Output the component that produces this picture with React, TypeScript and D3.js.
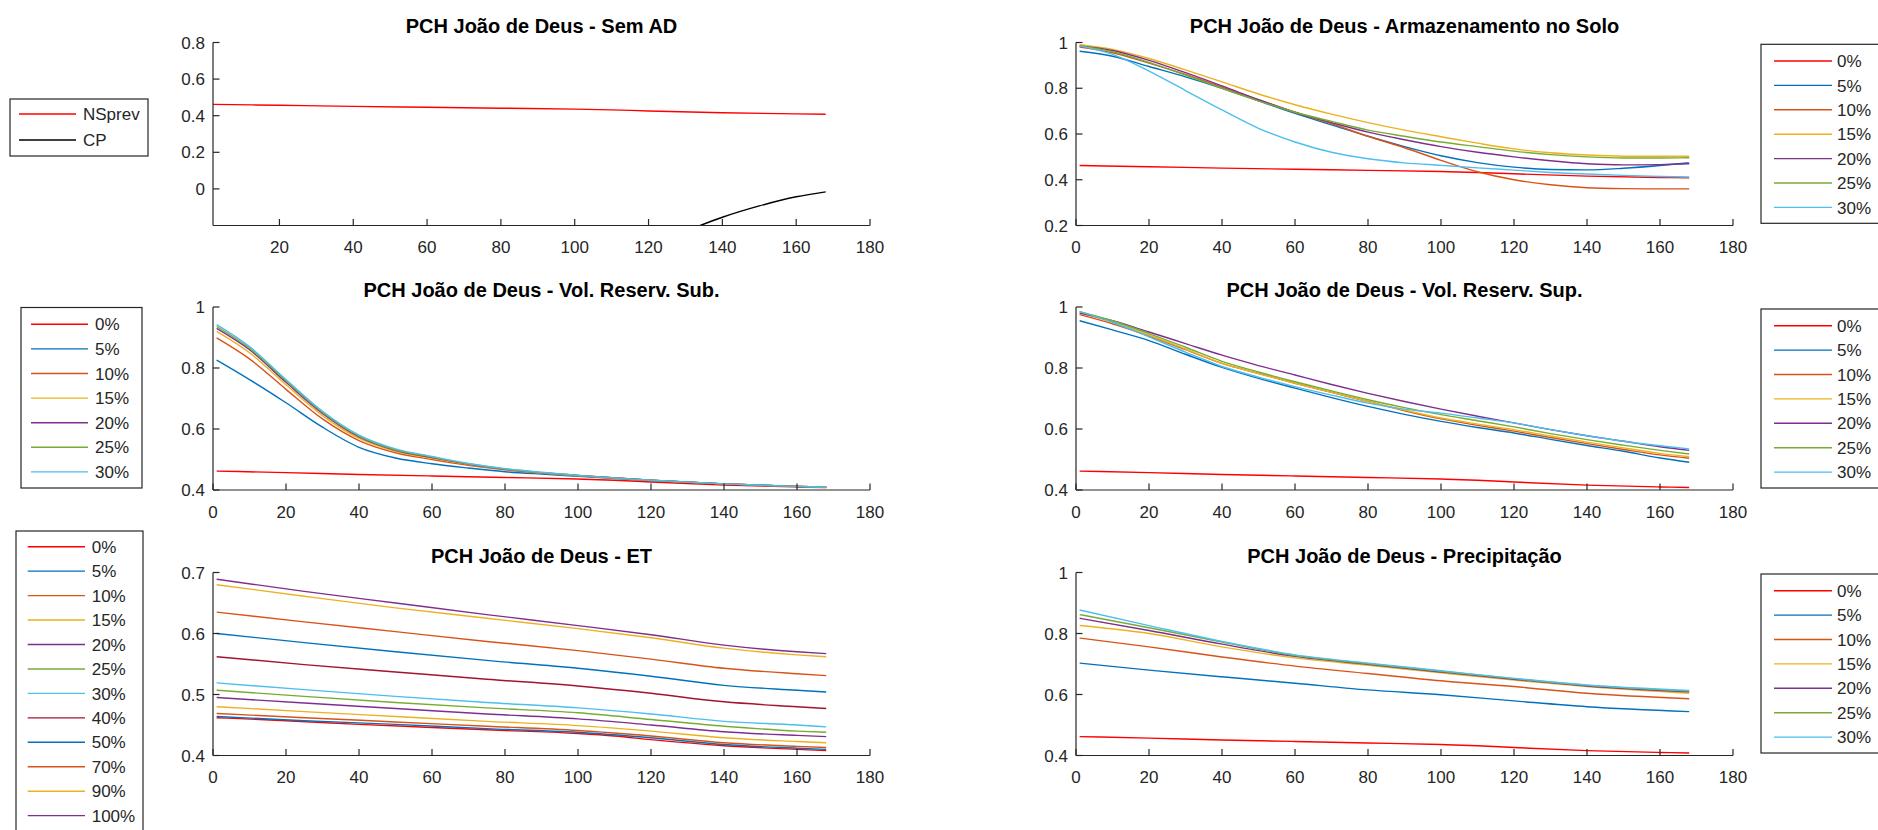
import React from "react";
import * as d3 from "d3";

// ---------- DATA ----------
const xBase = [1, 20, 40, 60, 80, 100, 110, 120, 140, 160, 168];
const nsPrev = [0.462, 0.457, 0.451, 0.446, 0.441, 0.436, 0.432, 0.426, 0.416, 0.41, 0.408];

const xCP = [134, 140, 150, 160, 168];
const cp = [-0.2, -0.155, -0.093, -0.043, -0.016];

const pctLabels = ["0%", "5%", "10%", "15%", "20%", "25%", "30%"];
const etLabels = ["0%", "5%", "10%", "15%", "20%", "25%", "30%", "40%", "50%", "70%", "90%", "100%"];
const palette = ["#FF0000", "#0072BD", "#D95319", "#EDB120", "#7E2F8E", "#77AC30", "#4DBEEE", "#A2142F", "#0072BD", "#D95319", "#EDB120", "#7E2F8E"];

// Armazenamento no Solo
const xArm = [1, 10, 20, 30, 40, 50, 60, 70, 80, 90, 100, 110, 120, 130, 140, 150, 160, 168];
const arm5 = [0.962, 0.94, 0.895, 0.85, 0.8, 0.745, 0.69, 0.64, 0.59, 0.545, 0.505, 0.475, 0.455, 0.445, 0.443, 0.45, 0.462, 0.474];
const arm10 = [0.98, 0.955, 0.91, 0.86, 0.805, 0.75, 0.695, 0.645, 0.59, 0.54, 0.485, 0.435, 0.4, 0.378, 0.365, 0.361, 0.36, 0.36];
const arm15 = [0.99, 0.97, 0.93, 0.88, 0.828, 0.775, 0.728, 0.687, 0.65, 0.617, 0.588, 0.56, 0.535, 0.518, 0.508, 0.503, 0.503, 0.503];
const arm20 = [0.985, 0.965, 0.922, 0.868, 0.81, 0.75, 0.695, 0.65, 0.608, 0.575, 0.545, 0.52, 0.5, 0.483, 0.47, 0.465, 0.466, 0.47];
const arm25 = [0.985, 0.96, 0.913, 0.858, 0.8, 0.745, 0.695, 0.655, 0.617, 0.59, 0.565, 0.545, 0.525, 0.51, 0.5, 0.495, 0.495, 0.496];
const arm30 = [0.985, 0.948, 0.875, 0.79, 0.705, 0.625, 0.565, 0.52, 0.492, 0.474, 0.463, 0.452, 0.442, 0.432, 0.425, 0.419, 0.414, 0.412];

// Vol. Reserv. Sub.
const xSub = [1, 10, 20, 30, 40, 50, 60, 70, 80, 90, 100, 120, 140, 160, 168];
const sub5 = [0.826, 0.762, 0.686, 0.606, 0.54, 0.505, 0.486, 0.472, 0.46, 0.452, 0.445, 0.431, 0.42, 0.412, 0.409];
const sub10 = [0.899, 0.83, 0.73, 0.633, 0.562, 0.522, 0.5, 0.481, 0.466, 0.455, 0.447, 0.432, 0.42, 0.412, 0.409];
const sub15 = [0.92, 0.85, 0.745, 0.644, 0.569, 0.527, 0.504, 0.484, 0.467, 0.456, 0.447, 0.432, 0.42, 0.412, 0.409];
const sub20 = [0.93, 0.86, 0.753, 0.651, 0.574, 0.53, 0.506, 0.485, 0.468, 0.457, 0.448, 0.432, 0.42, 0.412, 0.409];
const sub25 = [0.936, 0.865, 0.758, 0.655, 0.577, 0.532, 0.508, 0.486, 0.469, 0.457, 0.448, 0.432, 0.42, 0.412, 0.409];
const sub30 = [0.942, 0.87, 0.762, 0.658, 0.58, 0.535, 0.51, 0.487, 0.47, 0.458, 0.448, 0.432, 0.42, 0.412, 0.409];

// Vol. Reserv. Sup.
const xSup = xArm;
const sup5 = [0.955, 0.925, 0.89, 0.845, 0.802, 0.766, 0.734, 0.703, 0.674, 0.648, 0.625, 0.605, 0.587, 0.566, 0.546, 0.527, 0.505, 0.491];
const sup10 = [0.975, 0.945, 0.905, 0.86, 0.815, 0.782, 0.75, 0.72, 0.69, 0.66, 0.633, 0.612, 0.593, 0.572, 0.552, 0.533, 0.515, 0.504];
const sup15 = [0.98, 0.95, 0.908, 0.862, 0.815, 0.782, 0.75, 0.72, 0.69, 0.662, 0.636, 0.616, 0.598, 0.577, 0.557, 0.538, 0.52, 0.509];
const sup20 = [0.98, 0.955, 0.918, 0.88, 0.842, 0.808, 0.777, 0.746, 0.717, 0.69, 0.665, 0.642, 0.62, 0.598, 0.578, 0.56, 0.542, 0.53];
const sup25 = [0.985, 0.955, 0.913, 0.868, 0.822, 0.787, 0.755, 0.725, 0.696, 0.67, 0.647, 0.627, 0.607, 0.585, 0.565, 0.547, 0.53, 0.518];
const sup30 = [0.985, 0.95, 0.902, 0.852, 0.805, 0.77, 0.739, 0.711, 0.685, 0.665, 0.652, 0.636, 0.62, 0.598, 0.578, 0.56, 0.545, 0.535];

// ET
const xET = [1, 25, 50, 75, 100, 120, 140, 160, 168];
const et5 = [0.464, 0.457, 0.451, 0.444, 0.438, 0.429, 0.418, 0.412, 0.41];
const et10 = [0.469, 0.462, 0.455, 0.448, 0.441, 0.432, 0.421, 0.415, 0.413];
const et15 = [0.48, 0.472, 0.464, 0.456, 0.449, 0.44, 0.429, 0.423, 0.421];
const et20 = [0.495, 0.486, 0.477, 0.468, 0.46, 0.45, 0.439, 0.433, 0.431];
const et25 = [0.507, 0.497, 0.487, 0.478, 0.47, 0.459, 0.448, 0.44, 0.438];
const et30 = [0.519, 0.508, 0.497, 0.487, 0.478, 0.468, 0.456, 0.45, 0.447];
const et40 = [0.562, 0.549, 0.537, 0.525, 0.514, 0.502, 0.488, 0.48, 0.477];
const et50 = [0.6, 0.585, 0.57, 0.556, 0.543, 0.53, 0.515, 0.507, 0.504];
const et70 = [0.635, 0.619, 0.603, 0.587, 0.572, 0.558, 0.543, 0.534, 0.531];
const et90 = [0.68, 0.661, 0.642, 0.625, 0.608, 0.593, 0.576, 0.565, 0.562];
const et100 = [0.689, 0.669, 0.65, 0.631, 0.613, 0.598, 0.581, 0.57, 0.567];

// Precipitação
const xPre = [1, 20, 40, 60, 80, 100, 120, 140, 168];
const pre5 = [0.703, 0.68, 0.658, 0.637, 0.615, 0.599, 0.579, 0.56, 0.544];
const pre10 = [0.785, 0.756, 0.723, 0.693, 0.669, 0.645, 0.626, 0.604, 0.586];
const pre15 = [0.826, 0.8, 0.756, 0.72, 0.696, 0.671, 0.647, 0.626, 0.604];
const pre20 = [0.85, 0.81, 0.765, 0.725, 0.699, 0.674, 0.65, 0.628, 0.609];
const pre25 = [0.862, 0.819, 0.772, 0.728, 0.701, 0.676, 0.652, 0.63, 0.611];
const pre30 = [0.877, 0.826, 0.774, 0.73, 0.703, 0.678, 0.653, 0.631, 0.613];

const xTicksFull = [0, 20, 40, 60, 80, 100, 120, 140, 160, 180];
const xTicksNoZero = [20, 40, 60, 80, 100, 120, 140, 160, 180];

// ---------- STYLE / LAYOUT ----------
const FONT = "'Liberation Sans', Arial, Helvetica, sans-serif";
const AX = "#262626";
const LW = 1.4;

type Series = { xs: number[]; ys: number[]; color: string };

function mk(xs: number[], ysList: number[][], colorStart = 1): Series[] {
  return ysList.map((ys, i) => ({ xs, ys, color: palette[colorStart + i] }));
}
const base: Series = { xs: xBase, ys: nsPrev, color: palette[0] };

const fmt = (v: number) => String(+v.toFixed(2));

function Panel(props: {
  id: string; left: number; top: number; width: number; height: number;
  xDomain: [number, number]; yDomain: [number, number];
  xTicks: number[]; yTicks: number[]; title: string; series: Series[];
}) {
  const { id, left, top, width, height, xDomain, yDomain, xTicks, yTicks, title, series } = props;
  const xs = d3.scaleLinear().domain(xDomain).range([left, left + width]);
  const ys = d3.scaleLinear().domain(yDomain).range([top + height, top]);
  const line = d3.line<[number, number]>().x((d) => xs(d[0])).y((d) => ys(d[1])).curve(d3.curveMonotoneX);
  const bottom = top + height;
  const tl = 6.5;
  return (
    <g>
      <defs>
        <clipPath id={id}>
          <rect x={left} y={top - 1} width={width} height={height + 1} />
        </clipPath>
      </defs>
      <text x={left + width / 2} y={top - 10} textAnchor="middle" fontFamily={FONT} fontWeight="bold" fontSize={20} fill="#000">{title}</text>
      <g clipPath={`url(#${id})`}>
        {series.map((s, i) => (
          <path key={i} d={line(s.xs.map((x, j) => [x, s.ys[j]] as [number, number])) || ""} fill="none" stroke={s.color} strokeWidth={LW} />
        ))}
      </g>
      <line x1={left} x2={left + width} y1={bottom} y2={bottom} stroke={AX} strokeWidth={1.2} />
      <line x1={left} x2={left} y1={top} y2={bottom} stroke={AX} strokeWidth={1.2} />
      {xTicks.map((t) => (
        <g key={"x" + t}>
          <line x1={xs(t)} x2={xs(t)} y1={bottom} y2={bottom - tl} stroke={AX} strokeWidth={1.2} />
          <text x={xs(t)} y={bottom + 27.5} textAnchor="middle" fontFamily={FONT} fontSize={17} fill={AX}>{t}</text>
        </g>
      ))}
      {yTicks.map((t) => (
        <g key={"y" + t}>
          <line x1={left} x2={left + tl} y1={ys(t)} y2={ys(t)} stroke={AX} strokeWidth={1.2} />
          <text x={left - 8} y={ys(t)} dy="0.36em" textAnchor="end" fontFamily={FONT} fontSize={17} fill={AX}>{fmt(t)}</text>
        </g>
      ))}
    </g>
  );
}

function Legend(props: {
  x: number; y: number; w: number; h: number; labels: string[]; colors: string[];
  lx1: number; lx2: number; tx: number; firstY: number; gap: number;
}) {
  const { x, y, w, h, labels, colors, lx1, lx2, tx, firstY, gap } = props;
  return (
    <g>
      <rect x={x} y={y} width={w} height={h} fill="#fff" stroke={AX} strokeWidth={1.2} />
      {labels.map((lab, i) => {
        const yy = firstY + i * gap;
        return (
          <g key={i}>
            <line x1={lx1} x2={lx2} y1={yy} y2={yy} stroke={colors[i]} strokeWidth={LW} />
            <text x={tx} y={yy} dy="0.36em" fontFamily={FONT} fontSize={17} fill={AX}>{lab}</text>
          </g>
        );
      })}
    </g>
  );
}

export default function App() {
  const LX = 213, LW_ = 657, RX = 1076, RW = 657, H = 183;
  const T1 = 42.5, T2 = 307, T3 = 572.5;
  const pctColors = palette.slice(0, 7);
  return (
    <svg width={1878} height={830} style={{ position: "absolute", left: 0, top: 0, background: "#fff" }}>
      <rect x={0} y={0} width={1878} height={830} fill="#fff" />
      <Panel id="c1" left={LX} top={T1} width={LW_} height={H} xDomain={[2, 180]} yDomain={[-0.2, 0.8]}
        xTicks={xTicksNoZero} yTicks={[0, 0.2, 0.4, 0.6, 0.8]} title="PCH João de Deus - Sem AD"
        series={[base, { xs: xCP, ys: cp, color: "#000" }]} />
      <Panel id="c2" left={RX} top={T1} width={RW} height={H} xDomain={[0, 180]} yDomain={[0.2, 1]}
        xTicks={xTicksFull} yTicks={[0.2, 0.4, 0.6, 0.8, 1]} title="PCH João de Deus - Armazenamento no Solo"
        series={[base, ...mk(xArm, [arm5, arm10, arm15, arm20, arm25, arm30])]} />
      <Panel id="c3" left={LX} top={T2} width={LW_} height={H} xDomain={[0, 180]} yDomain={[0.4, 1]}
        xTicks={xTicksFull} yTicks={[0.4, 0.6, 0.8, 1]} title="PCH João de Deus - Vol. Reserv. Sub."
        series={[base, ...mk(xSub, [sub5, sub10, sub15, sub20, sub25, sub30])]} />
      <Panel id="c4" left={RX} top={T2} width={RW} height={H} xDomain={[0, 180]} yDomain={[0.4, 1]}
        xTicks={xTicksFull} yTicks={[0.4, 0.6, 0.8, 1]} title="PCH João de Deus - Vol. Reserv. Sup."
        series={[base, ...mk(xSup, [sup5, sup10, sup15, sup20, sup25, sup30])]} />
      <Panel id="c5" left={LX} top={T3} width={LW_} height={H} xDomain={[0, 180]} yDomain={[0.4, 0.7]}
        xTicks={xTicksFull} yTicks={[0.4, 0.5, 0.6, 0.7]} title="PCH João de Deus - ET"
        series={[base, ...mk(xET, [et5, et10, et15, et20, et25, et30, et40, et50, et70, et90, et100])]} />
      <Panel id="c6" left={RX} top={T3} width={RW} height={H} xDomain={[0, 180]} yDomain={[0.4, 1]}
        xTicks={xTicksFull} yTicks={[0.4, 0.6, 0.8, 1]} title="PCH João de Deus - Precipitação"
        series={[base, ...mk(xPre, [pre5, pre10, pre15, pre20, pre25, pre30])]} />

      <Legend x={10} y={99} w={138} h={57} labels={["NSprev", "CP"]} colors={["#FF0000", "#000"]}
        lx1={19} lx2={76} tx={83} firstY={114} gap={26} />
      <Legend x={21} y={307.5} w={121} h={180.5} labels={pctLabels} colors={pctColors}
        lx1={31} lx2={88} tx={95} firstY={324.3} gap={24.6} />
      <Legend x={16} y={531} w={127} h={305} labels={etLabels} colors={palette}
        lx1={27.7} lx2={85} tx={91.7} firstY={546.7} gap={24.45} />
      <Legend x={1761} y={44.3} w={130} h={179} labels={pctLabels} colors={pctColors}
        lx1={1774} lx2={1832} tx={1837} firstY={61} gap={24.4} />
      <Legend x={1761} y={309} w={130} h={179} labels={pctLabels} colors={pctColors}
        lx1={1774} lx2={1832} tx={1837} firstY={325.7} gap={24.4} />
      <Legend x={1761} y={574} w={130} h={179} labels={pctLabels} colors={pctColors}
        lx1={1774} lx2={1832} tx={1837} firstY={590.7} gap={24.4} />
    </svg>
  );
}
